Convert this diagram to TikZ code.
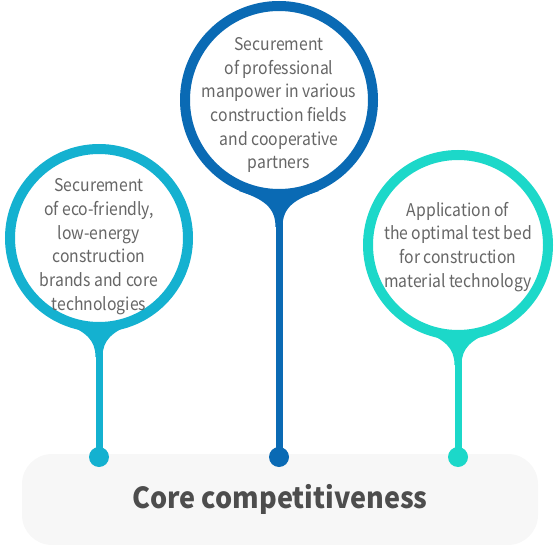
\documentclass[tikz,border=0pt]{standalone}
\usepackage{fontspec}
\setmainfont{Noto Sans CJK KR}
\newfontfamily\circfont[FakeStretch=0.9]{Noto Sans CJK KR}
\newfontfamily\titlefont[FakeStretch=0.93]{Noto Sans CJK KR}
\definecolor{cA}{HTML}{14B1D0}
\definecolor{cB}{HTML}{0A6AB4}
\definecolor{cC}{HTML}{1CD8C9}
\definecolor{txt}{HTML}{666666}
\definecolor{ttl}{HTML}{4D4D4D}
\definecolor{boxbg}{HTML}{F7F7F7}
\newcommand\pinneck[4]{% color, node, half width, length
  \fill[#1] ([shift={(-#3,-8)}]#2.south) .. controls ([shift={(-#3*0.4,0)}]#2.south) and ([shift={(-3.5,8)}]#2.south) .. ([shift={(-3.5,#4)}]#2.south)
    -- ([shift={(3.5,#4)}]#2.south) .. controls ([shift={(3.5,8)}]#2.south) and ([shift={(#3*0.4,0)}]#2.south) .. ([shift={(#3,-8)}]#2.south)
    -- ([shift={(0,-8)}]#2.south) -- cycle;}
\begin{document}
\begin{tikzpicture}[x=1pt,y=-1pt,
  ring/.style={circle, draw=#1, line width=10pt, inner sep=0pt, fill=white},
  stem/.style={draw=#1, line width=7pt},
  dotnode/.style={circle, fill=#1, minimum size=20pt, inner sep=0pt},
  lbl/.style={align=center, text=txt, inner sep=0pt, font=\circfont\fontsize{17.5}{23.7}\selectfont},
  corebox/.style={rounded corners=30pt, fill=boxbg, minimum width=516pt, minimum height=91pt, inner sep=0pt, text=ttl, font=\titlefont\fontsize{29}{34}\selectfont\bfseries}]
\useasboundingbox (0,0) rectangle (559,545);
\node[corebox] (core) at (280,499.5) {Core competitiveness};
% circles
\node[ring=cA, minimum size=178pt] (c1) at (99,238) {};
\node[ring=cB, minimum size=188pt] (c2) at (279,100) {};
\node[ring=cC, minimum size=180pt] (c3) at (458,245) {};
% dots
\node[dotnode=cA] (d1) at (99,457) {};
\node[dotnode=cB] (d2) at (279,457) {};
\node[dotnode=cC] (d3) at (458,457) {};
% stems
\draw[stem=cA] (c1.south) -- (d1.center);
\draw[stem=cB] (c2.south) -- (d2.center);
\draw[stem=cC] (c3.south) -- (d3.center);
\pinneck{cA}{c1}{33}{25}
\pinneck{cB}{c2}{40}{28}
\pinneck{cC}{c3}{33}{25}
% labels
\node[lbl] (t1) at (99,246.6) {Securement\\of eco-friendly,\\low-energy\\construction\\brands and core\\technologies};
\node[lbl] (t2) at (279,105.1) {Securement\\of professional\\manpower in various\\construction fields\\and cooperative\\partners};
\node[lbl] (t3) at (458,246.7) {Application of\\the optimal test bed\\for construction\\material technology};
\end{tikzpicture}
\end{document}
